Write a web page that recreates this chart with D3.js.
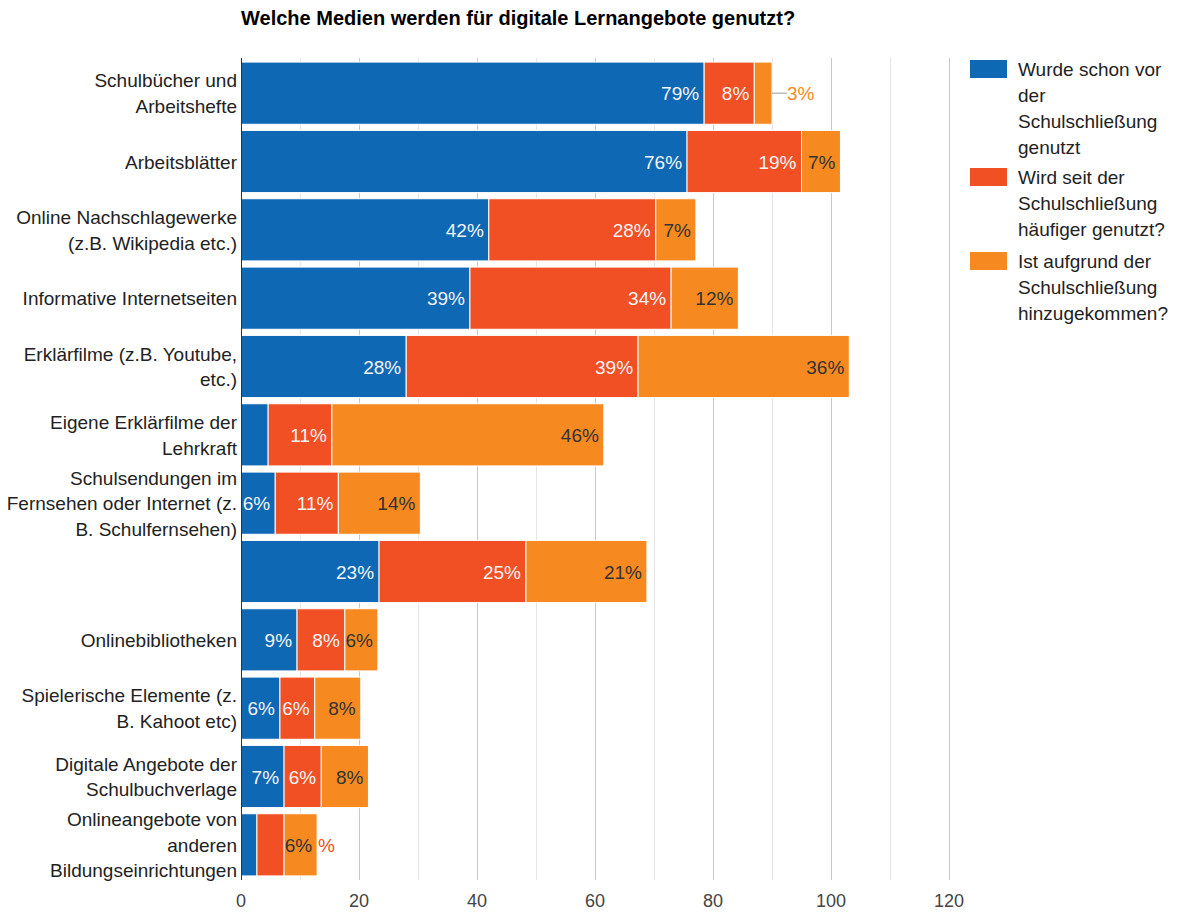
<!DOCTYPE html>
<html>
<head>
<meta charset="utf-8">
<script src="https://cdn.jsdelivr.net/npm/d3@7"></script>
<style>
  body { margin: 0; background: #fff; }
  text { font-family: "Liberation Sans", Arial, sans-serif; }
</style>
</head>
<body>
<div id="chart"></div>
<script>
// categories (line breaks with |)
var categories = [
  "Schulbücher und|Arbeitshefte",
  "Arbeitsblätter",
  "Online Nachschlagewerke|(z.B. Wikipedia etc.)",
  "Informative Internetseiten",
  "Erklärfilme (z.B. Youtube,|etc.)",
  "Eigene Erklärfilme der|Lehrkraft",
  "Schulsendungen im|Fernsehen oder Internet (z.|B. Schulfernsehen)",
  "",
  "Onlinebibliotheken",
  "Spielerische Elemente (z.|B. Kahoot etc)",
  "Digitale Angebote der|Schulbuchverlage",
  "Onlineangebote von|anderen|Bildungseinrichtungen"
];

var seriesNames = [
  "Wurde schon vor|der|Schulschließung|genutzt",
  "Wird seit der|Schulschließung|häufiger genutzt?",
  "Ist aufgrund der|Schulschließung|hinzugekommen?"
];

var beforeValues = [78.5, 75.6, 42.0, 38.8, 28.0, 4.6, 5.8, 23.4, 9.5, 6.6, 7.3, 2.7];
var moreValues   = [8.5, 19.4, 28.3, 34.1, 39.3, 10.8, 10.7, 24.9, 8.1, 5.9, 6.3, 4.6];
var newValues    = [3.0, 6.6, 6.8, 11.4, 35.8, 46.1, 13.9, 20.5, 5.6, 7.8, 8.0, 5.6];

var beforeLabels = ["79%", "76%", "42%", "39%", "28%", "", "6%", "23%", "9%", "6%", "7%", ""];
var moreLabels   = ["8%", "19%", "28%", "34%", "39%", "11%", "11%", "25%", "8%", "6%", "6%", "%"];
var newLabels    = ["3%", "7%", "7%", "12%", "36%", "46%", "14%", "21%", "6%", "8%", "8%", "6%"];

var xTicks = [0, 20, 40, 60, 80, 100, 120];
var colors = ["#0e68b4", "#f14f24", "#f68a21"];

var width = 1182, height = 915;
var margin = {top: 59, left: 241, right: 233, bottom: 36};

var svg = d3.select("#chart").append("svg")
    .attr("width", width)
    .attr("height", height);

var x = d3.scaleLinear().domain([0, 120]).range([margin.left, width - margin.right]);
var y = d3.scaleBand().domain(d3.range(categories.length))
    .range([margin.top, height - margin.bottom])
    .paddingInner(0.09).paddingOuter(0.045);

// title
svg.append("text")
    .attr("x", 241).attr("y", 25)
    .style("font-size", "20px").style("font-weight", "bold").attr("fill", "#000")
    .text("Welche Medien werden für digitale Lernangebote genutzt?");

// gridlines
svg.append("g").selectAll("line")
    .data(d3.range(10, 121, 10))
  .enter().append("line")
    .attr("x1", function(d) { return Math.round(x(d)) + 0.5; })
    .attr("x2", function(d) { return Math.round(x(d)) + 0.5; })
    .attr("y1", margin.top - 1).attr("y2", height - margin.bottom + 1)
    .attr("stroke", function(d) { return d % 20 == 0 ? "#c8c8c8" : "#e6e6e6"; });

// stacked data
var data = categories.map(function(c, i) {
    var vals = [beforeValues[i], moreValues[i], newValues[i]];
    var labs = [beforeLabels[i], moreLabels[i], newLabels[i]];
    var x0 = 0;
    return vals.map(function(v, k) {
        var seg = {row: i, k: k, x0: x0, x1: x0 + v, label: labs[k]};
        x0 += v;
        return seg;
    });
});
var segs = [].concat.apply([], data);

svg.append("g").selectAll("rect")
    .data(segs)
  .enter().append("rect")
    .attr("x", function(d) { return x(d.x0); })
    .attr("y", function(d) { return y(d.row); })
    .attr("width", function(d) { return x(d.x1) - x(d.x0); })
    .attr("height", y.bandwidth())
    .attr("fill", function(d) { return colors[d.k]; })
    .attr("stroke", "#fff").attr("stroke-width", 1);

// value labels
var lab = svg.append("g").style("font-size", "19px");
segs.forEach(function(d) {
    if (!d.label) return;
    var cy = y(d.row) + y.bandwidth() / 2 + 7;
    if (d.row == 0 && d.k == 2) {
        // outside label with leader line
        lab.append("line")
            .attr("x1", x(d.x1)).attr("x2", x(d.x1) + 15)
            .attr("y1", cy - 7).attr("y2", cy - 7)
            .attr("stroke", "#999");
        lab.append("text")
            .attr("x", x(d.x1) + 15).attr("y", cy)
            .attr("fill", colors[2]).text(d.label);
        return;
    }
    if (d.row == 11 && d.k == 1) {
        lab.append("text")
            .attr("x", x(d.x1 + newValues[11]) + 1).attr("y", cy)
            .attr("fill", colors[1]).text(d.label);
        return;
    }
    lab.append("text")
        .attr("x", x(d.x1) - 5).attr("y", cy)
        .attr("text-anchor", "end")
        .attr("fill", d.k == 2 ? "#333" : "#f4f4f4")
        .text(d.label);
});

// baseline
svg.append("line")
    .attr("x1", x(0) + 0.5).attr("x2", x(0) + 0.5)
    .attr("y1", margin.top - 1).attr("y2", height - margin.bottom + 1)
    .attr("stroke", "#333");

// category labels
var cat = svg.append("g").style("font-size", "19px").attr("fill", "#222");
categories.forEach(function(c, i) {
    if (!c) return;
    var lines = c.split("|");
    var cy = y(i) + y.bandwidth() / 2;
    var t = cat.append("text").attr("text-anchor", "end");
    lines.forEach(function(l, j) {
        t.append("tspan")
            .attr("x", 237)
            .attr("y", cy + 7 + (j - (lines.length - 1) / 2) * 25.5)
            .text(l);
    });
});

// x axis labels
svg.append("g").style("font-size", "18px").selectAll("text")
    .data(xTicks)
  .enter().append("text")
    .attr("x", function(d) { return x(d); })
    .attr("y", 907)
    .attr("text-anchor", "middle")
    .attr("fill", "#444")
    .text(function(d) { return d; });

// legend
var legY = [60, 168, 252];
var leg = svg.append("g").style("font-size", "19px");
seriesNames.forEach(function(s, k) {
    leg.append("rect")
        .attr("x", 970).attr("y", legY[k])
        .attr("width", 37).attr("height", 18)
        .attr("fill", colors[k]);
    s.split("|").forEach(function(l, j) {
        leg.append("text")
            .attr("x", 1018).attr("y", legY[k] + 16 + j * 26)
            .attr("fill", "#222")
            .text(l);
    });
});
</script>
</body>
</html>
